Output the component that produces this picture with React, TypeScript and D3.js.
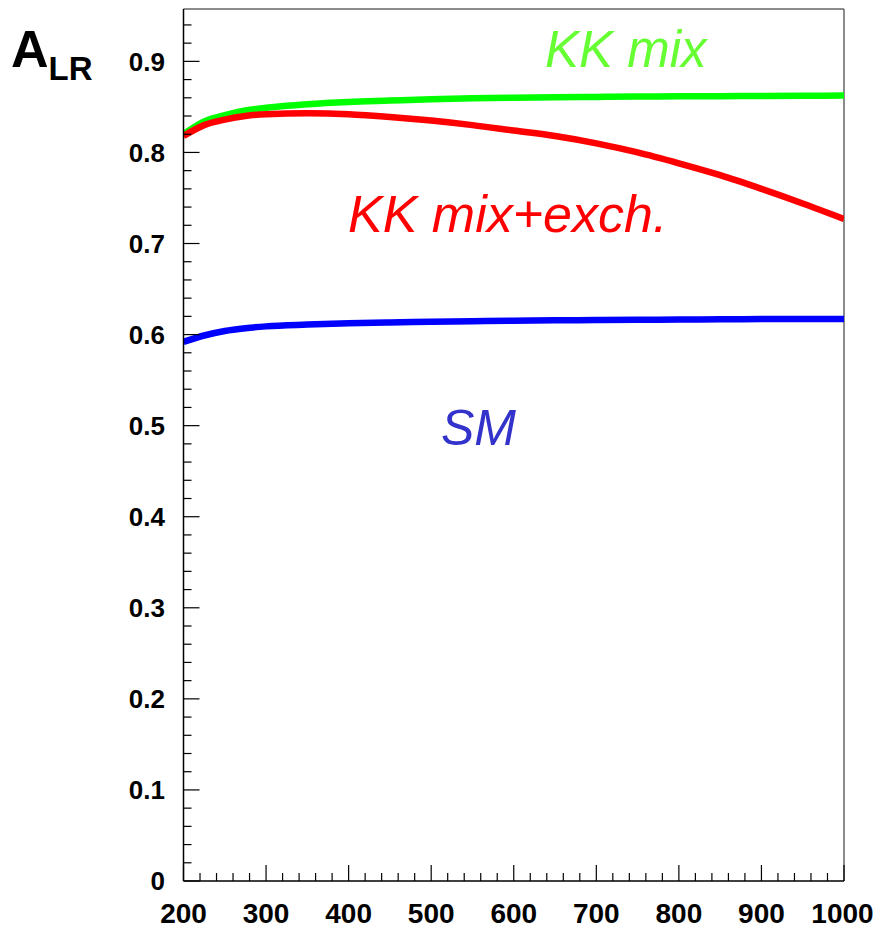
import React from 'react'
import * as d3 from 'd3'

// sqrt(s) in GeV
const energies = [200, 225, 250, 275, 300, 350, 400, 450, 500, 550, 600, 650, 700, 750, 800, 850, 900, 950, 1000]

// A_LR curves
const kkMix = [0.820, 0.834, 0.841, 0.846, 0.849, 0.853, 0.8555, 0.857, 0.8585, 0.8595, 0.860, 0.8605, 0.861, 0.8613, 0.8616, 0.8618, 0.862, 0.8622, 0.8624]
const kkMixExch = [0.818, 0.830, 0.836, 0.840, 0.842, 0.843, 0.842, 0.839, 0.835, 0.830, 0.824, 0.818, 0.810, 0.800, 0.788, 0.775, 0.760, 0.744, 0.727]
const sm = [0.592, 0.599, 0.604, 0.607, 0.609, 0.611, 0.6125, 0.6133, 0.614, 0.6147, 0.6152, 0.6156, 0.616, 0.6163, 0.6165, 0.6168, 0.617, 0.6171, 0.6172]

const xTicks = [200, 300, 400, 500, 600, 700, 800, 900, 1000]
const yTicks = [0, 0.1, 0.2, 0.3, 0.4, 0.5, 0.6, 0.7, 0.8, 0.9]

const W = 881
const H = 929
const margin = { left: 183.5, right: 37, top: 9, bottom: 48 }
const font = '"Liberation Sans", Arial, Helvetica, sans-serif'

export default function App() {
  const x = d3.scaleLinear().domain([200, 1000]).range([margin.left, W - margin.right])
  const y = d3.scaleLinear().domain([0, 0.9575]).range([H - margin.bottom, margin.top])

  const line = d3.line<number>()
    .x((d, i) => x(energies[i]))
    .y(d => y(d))
    .curve(d3.curveMonotoneX)

  const x0 = x(200), x1 = x(1000), yb = y(0), yt = y(0.9575)

  const xMinor = d3.range(200, 1001, 20)
  const yMinor = d3.range(0, 0.957, 0.02)

  const series = [
    { values: kkMix, color: '#00ff00' },
    { values: kkMixExch, color: '#ff0000' },
    { values: sm, color: '#0000ff' },
  ]

  return (
    <svg width={W} height={H} style={{ position: 'absolute', left: 0, top: 0, background: '#fff' }}>
      <defs>
        <clipPath id="plot">
          <rect x={x0} y={yt} width={x1 - x0} height={yb - yt} />
        </clipPath>
      </defs>

      {/* frame */}
      <line x1={x0} x2={x1} y1={yt} y2={yt} stroke="#666" strokeWidth={1.5} />
      <line x1={x1} x2={x1} y1={yt} y2={yb} stroke="#666" strokeWidth={1.5} />

      {/* curves */}
      <g clipPath="url(#plot)">
        {series.map((s, i) => (
          <path key={i} d={line(s.values) ?? ''} fill="none" stroke={s.color} strokeWidth={6.5} />
        ))}
      </g>

      {/* y axis */}
      <line x1={x0} x2={x0} y1={yt} y2={yb} stroke="#000" strokeWidth={1.5} />
      {yMinor.map((v, i) => {
        const major = i % 5 === 0
        return <line key={'ym' + i} x1={x0} x2={x0 + (major ? 16 : 8)} y1={y(v)} y2={y(v)} stroke="#000" strokeWidth={1.2} />
      })}
      {yTicks.map(v => (
        <text key={'yl' + v} x={165} y={y(v)} dy="0.36em" textAnchor="end"
          fontFamily={font} fontWeight="bold" fontSize={26}>
          {v === 0 ? '0' : d3.format('.1f')(v)}
        </text>
      ))}

      {/* x axis */}
      <line x1={x0} x2={x1} y1={yb} y2={yb} stroke="#000" strokeWidth={1.5} />
      {xMinor.map((v, i) => {
        const major = i % 5 === 0
        return <line key={'xm' + i} x1={x(v)} x2={x(v)} y1={yb} y2={yb - (major ? 16 : 8)} stroke="#000" strokeWidth={1.2} />
      })}
      {xTicks.map(v => (
        <text key={'xl' + v} x={x(v) + (v === 1000 ? -1.5 : 0)} y={923} textAnchor="middle"
          fontFamily={font} fontWeight="bold" fontSize={28}>
          {v}
        </text>
      ))}

      {/* axis title */}
      <text x={11} y={67} fontFamily={font} fontWeight="bold" fontSize={52}>
        A<tspan fontSize={33} dy={13}>LR</tspan>
      </text>

      {/* curve labels */}
      <text x={545} y={67} fontFamily={font} fontStyle="italic" fontSize={51} fill="#66ff33">KK mix</text>
      <text x={348} y={232} fontFamily={font} fontStyle="italic" fontSize={52} fill="#ff0000">KK mix+exch.</text>
      <text x={441} y={445} fontFamily={font} fontStyle="italic" fontSize={50} fill="#3333cc">SM</text>
    </svg>
  )
}
